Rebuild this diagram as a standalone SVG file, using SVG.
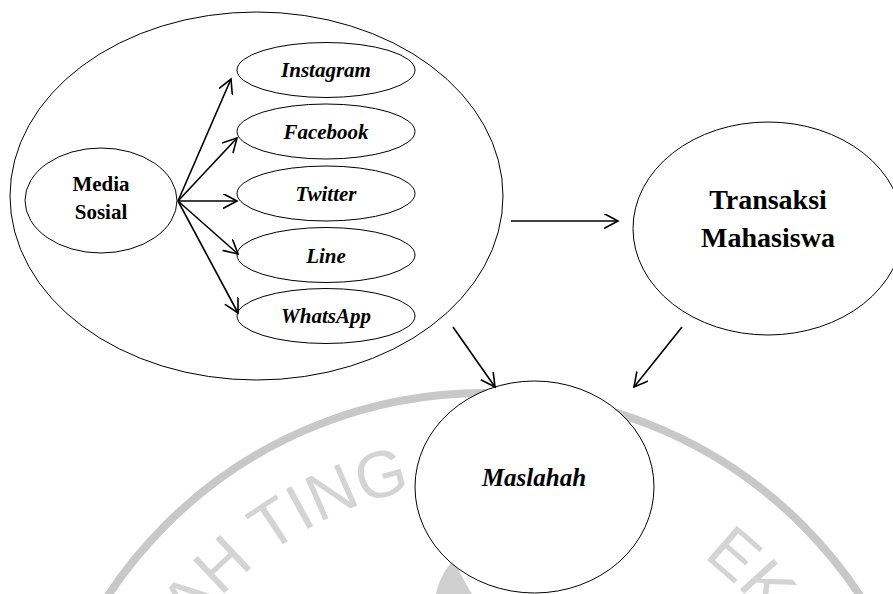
<svg xmlns="http://www.w3.org/2000/svg" width="893" height="594" viewBox="0 0 893 594">
<style>
.node{fill:#fff;stroke:#000;stroke-width:1}
.edge{fill:none;stroke:#000;stroke-width:1.6}
.t{font-family:"Liberation Serif","Times New Roman",serif;font-weight:bold;fill:#000;text-anchor:middle}
.it{font-style:italic}
.wm{font-family:"Liberation Sans",Arial,sans-serif;font-size:66px;fill:#d4d4d4}
</style>
<defs>
<marker id="arr" markerUnits="userSpaceOnUse" markerWidth="16" markerHeight="16" viewBox="0 0 16 16" refX="14" refY="7.5" orient="auto">
<path d="M0,0 L14,7.5 L0,15" fill="none" stroke="#000" stroke-width="1.6"/>
</marker>
<path id="wmpath" d="M124,843 A360,360 0 1 1 844,843"/>
</defs>
<rect width="893" height="594" fill="#fff"/>
<g id="watermark">
<circle cx="484" cy="843" r="450" fill="none" stroke="#c8c8c8" stroke-width="8"/>
<text class="wm"><textPath href="#wmpath" startOffset="226">AH TING</textPath></text>
<text class="wm"><textPath href="#wmpath" startOffset="800">EK</textPath></text>
<path d="M436,594 C439,580 446,566 455,560 C459,572 466,584 472,594 Z" fill="#cfcfcf"/>
</g>
<g id="media-sosial-group">
<ellipse class="node" cx="256.5" cy="196" rx="246.5" ry="184"/>
</g>
<g id="media-sosial">
<ellipse class="node" cx="101" cy="200.5" rx="76" ry="52.5"/>
<text class="t" x="101" y="191" font-size="21">Media</text>
<text class="t" x="101" y="219" font-size="21">Sosial</text>
</g>
<g id="instagram">
<ellipse class="node" cx="326" cy="70" rx="89" ry="27.5"/>
<text class="t it" x="326" y="77" font-size="21">Instagram</text>
</g>
<g id="facebook">
<ellipse class="node" cx="326" cy="131.5" rx="89" ry="27.5"/>
<text class="t it" x="326" y="139" font-size="21">Facebook</text>
</g>
<g id="twitter">
<ellipse class="node" cx="326" cy="193.5" rx="89" ry="27.5"/>
<text class="t it" x="326" y="201" font-size="21">Twitter</text>
</g>
<g id="line">
<ellipse class="node" cx="326" cy="255" rx="89" ry="27.5"/>
<text class="t it" x="326" y="262.5" font-size="21">Line</text>
</g>
<g id="whatsapp">
<ellipse class="node" cx="326" cy="316" rx="89" ry="27.5"/>
<text class="t it" x="326" y="323" font-size="21">WhatsApp</text>
</g>
<g id="transaksi-mahasiswa">
<ellipse class="node" cx="768" cy="228.5" rx="135" ry="106.5"/>
<text class="t" x="768" y="209" font-size="28">Transaksi</text>
<text class="t" x="768" y="247" font-size="28">Mahasiswa</text>
</g>
<g id="maslahah">
<ellipse class="node" cx="534.5" cy="487" rx="119.5" ry="106"/>
<text class="t it" x="534" y="486" font-size="25">Maslahah</text>
</g>
<g id="connectors">
<line class="edge" x1="178" y1="201" x2="231" y2="79" marker-end="url(#arr)"/>
<line class="edge" x1="178" y1="201" x2="237" y2="138" marker-end="url(#arr)"/>
<line class="edge" x1="178" y1="201" x2="237" y2="201" marker-end="url(#arr)"/>
<line class="edge" x1="178" y1="201" x2="238" y2="254" marker-end="url(#arr)"/>
<line class="edge" x1="178" y1="201" x2="238" y2="313" marker-end="url(#arr)"/>
<line class="edge" x1="511" y1="221" x2="618" y2="221" marker-end="url(#arr)"/>
<line class="edge" x1="453" y1="327" x2="495" y2="387" marker-end="url(#arr)"/>
<line class="edge" x1="682" y1="327" x2="634" y2="387" marker-end="url(#arr)"/>
</g>
</svg>
